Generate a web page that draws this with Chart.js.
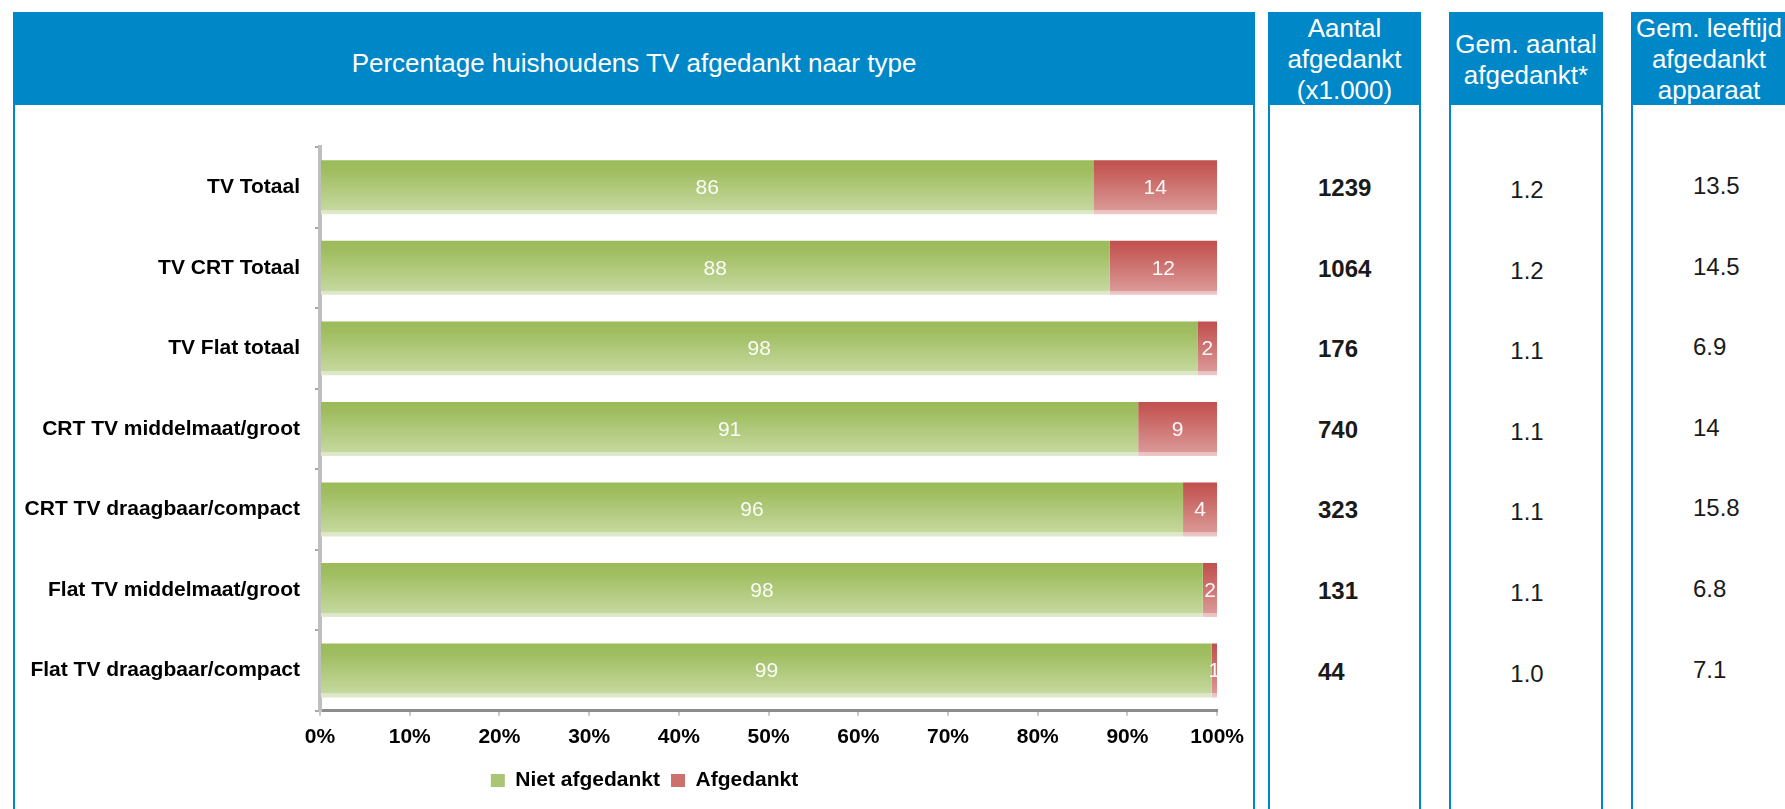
<!doctype html>
<html lang="nl">
<head>
  <meta charset="utf-8">
  <title>Percentage huishoudens TV afgedankt naar type</title>
  <script src="https://cdn.jsdelivr.net/npm/chart.js"></script>
  <style>
    body { margin: 0; width: 1785px; height: 809px; overflow: hidden; background: #fff;
           font-family: "Liberation Sans", Arial, sans-serif; position: relative; }
    .panel { position: absolute; top: 12px; height: 820px; box-sizing: border-box;
             border-left: 2px solid #0087c7; border-right: 2px solid #0087c7; }
    .head { height: 93px; background: #0087c7; color: #fff; font-size: 26px; line-height: 31px;
            text-align: center; overflow: hidden; box-sizing: border-box; white-space: nowrap; }
    .cell { position: absolute; font-size: 24px; color: #1a1a1a; white-space: nowrap;
            transform: translateY(-50%); line-height: 28px; }
    #chart { position: absolute; left: 15px; top: 107px; }
  </style>
</head>
<body>

<div class="panel" style="left:13px;width:1242px">
  <div class="head" style="line-height:93px;padding-top:5px">Percentage huishoudens TV afgedankt naar type</div>
</div>
<div class="panel" style="left:1268px;width:153px">
  <div class="head" style="padding-top:1px">Aantal<br>afgedankt<br>(x1.000)</div>
</div>
<div class="panel" style="left:1449px;width:154px">
  <div class="head" style="padding-top:17px">Gem. aantal<br>afgedankt*</div>
</div>
<div class="panel" style="left:1631px;width:156px">
  <div class="head" style="padding-top:1px">Gem. leeftijd<br>afgedankt<br>apparaat</div>
</div>

<canvas id="chart" width="1238" height="702"></canvas>

<script>
// data
var categories = ['TV Totaal', 'TV CRT Totaal', 'TV Flat totaal', 'CRT TV middelmaat/groot',
                  'CRT TV draagbaar/compact', 'Flat TV middelmaat/groot', 'Flat TV draagbaar/compact'];
var nietAfgedankt = [86.2, 88.0, 97.8, 91.2, 96.2, 98.4, 99.4];
var afgedankt = [13.8, 12.0, 2.2, 8.8, 3.8, 1.6, 0.6];
var xTicks = [0, 10, 20, 30, 40, 50, 60, 70, 80, 90, 100];

// side tables
var aantalAfgedankt = [1239, 1064, 176, 740, 323, 131, 44];
var gemAantal = [1.2, 1.2, 1.1, 1.1, 1.1, 1.1, 1.0];
var gemLeeftijd = [13.5, 14.5, 6.9, 14, 15.8, 6.8, 7.1];

var sans = '"Liberation Sans", Arial, sans-serif';
var BAR_PCT = 0.67;
var legendColors = ['#aac574', '#cd716f'];

// vertical gradient per bar, like the office chart style
function barFill(stops, solid) {
  return function(ctx) {
    var chart = ctx.chart;
    var scale = chart.scales.y;
    if (ctx.type !== 'data' || !chart.chartArea || !scale) return solid;
    var c = scale.getPixelForValue(ctx.dataIndex);
    var half = chart.chartArea.height / categories.length * BAR_PCT / 2;
    var g = chart.ctx.createLinearGradient(0, c - half, 0, c + half);
    stops.forEach(function(s) { g.addColorStop(s[0], s[1]); });
    return g;
  };
}

var greenStops = [[0, '#9bbb59'], [0.2, '#a0be61'], [0.92, '#c5d89e'], [0.925, '#dbe6c4'], [1, '#e0eacc']];
var redStops = [[0, '#c0504d'], [0.2, '#c65e5b'], [0.92, '#da9896'], [0.925, '#e8bfbe'], [1, '#edc9c8']];

// white numbers in the middle of each segment
var barLabels = {
  id: 'barLabels',
  afterDatasetsDraw: function(chart) {
    var ctx = chart.ctx, a = chart.chartArea;
    ctx.save();
    ctx.beginPath();
    ctx.rect(a.left, a.top, a.right - a.left, a.bottom - a.top);
    ctx.clip();
    ctx.font = '21px ' + sans;
    ctx.fillStyle = 'rgba(255,255,255,0.95)';
    ctx.textAlign = 'center';
    ctx.textBaseline = 'middle';
    chart.data.datasets.forEach(function(ds, di) {
      chart.getDatasetMeta(di).data.forEach(function(bar, i) {
        var p = bar.getCenterPoint();
        ctx.fillText(Math.round(ds.data[i]), p.x, p.y + 1);
      });
    });
    ctx.restore();
  }
};

// the legend sits a bit right of the canvas middle in the original
var legendShift = {
  id: 'legendShift',
  afterLayout: function(chart) {
    chart.legend.left += 28;
    chart.legend.right += 28;
  }
};

var chart = new Chart(document.getElementById('chart'), {
  type: 'bar',
  data: {
    labels: categories,
    datasets: [{
      label: 'Niet afgedankt',
      data: nietAfgedankt,
      backgroundColor: barFill(greenStops, legendColors[0]),
      categoryPercentage: 1,
      barPercentage: BAR_PCT
    }, {
      label: 'Afgedankt',
      data: afgedankt,
      backgroundColor: barFill(redStops, legendColors[1]),
      categoryPercentage: 1,
      barPercentage: BAR_PCT
    }]
  },
  options: {
    indexAxis: 'y',
    responsive: false,
    animation: false,
    layout: { padding: { top: 40, left: 0, right: 35, bottom: 8 } },
    plugins: {
      tooltip: { enabled: false },
      legend: {
        position: 'bottom',
        labels: {
          boxWidth: 14,
          boxHeight: 13,
          padding: 11,
          color: '#000',
          font: { family: sans, size: 21, weight: 'bold' },
          generateLabels: function(chart) {
            var items = Chart.defaults.plugins.legend.labels.generateLabels(chart);
            items.forEach(function(it, i) {
              it.fillStyle = legendColors[i];
              it.strokeStyle = legendColors[i];
              it.lineWidth = 0;
            });
            return items;
          }
        }
      }
    },
    scales: {
      x: {
        stacked: true,
        min: 0,
        max: 100,
        afterBuildTicks: function(scale) {
          scale.ticks = xTicks.map(function(v) { return { value: v }; });
        },
        ticks: {
          padding: 9,
          color: '#000',
          font: { family: sans, size: 21, weight: 'bold' },
          callback: function(v) { return v + '%'; }
        },
        grid: { drawOnChartArea: false, tickLength: 5, color: '#c8c8c8', lineWidth: 2 },
        border: { color: '#8c8c8c', width: 3 }
      },
      y: {
        stacked: true,
        afterFit: function(scale) { scale.width = 305; },
        ticks: {
          padding: 15,
          color: '#000',
          font: { family: sans, size: 21, weight: 'bold' }
        },
        grid: { drawOnChartArea: false, tickLength: 5, color: '#a6a6a6', lineWidth: 2 },
        border: { color: '#bfbfbf', width: 4 }
      }
    }
  },
  plugins: [barLabels, legendShift]
});

// side table values, one row per bar, placed on the category positions
var canvasTop = 107;
function addCell(text, x, y, center, bold) {
  var d = document.createElement('div');
  d.className = 'cell';
  d.textContent = text;
  if (bold) d.style.fontWeight = 'bold';
  if (center) d.style.transform = 'translate(-50%, -50%)';
  d.style.left = x + 'px';
  d.style.top = y + 'px';
  document.body.appendChild(d);
}
categories.forEach(function(c, i) {
  var y = canvasTop + chart.scales.y.getPixelForValue(i);
  addCell(String(aantalAfgedankt[i]), 1318, y + 1, false, true);
  addCell(gemAantal[i].toFixed(1), 1527, y + 3, true, false);
  addCell(String(gemLeeftijd[i]), 1693, y - 1, false, false);
});
</script>
</body>
</html>
